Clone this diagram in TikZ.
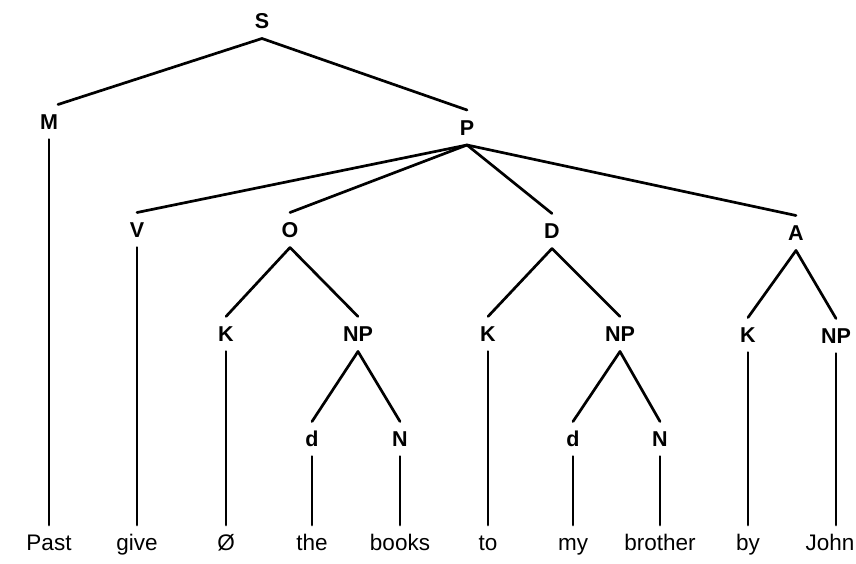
\documentclass[tikz,border=0pt]{standalone}
\usepackage{fontspec}
\setmainfont{Liberation Sans}
\begin{document}
\begin{tikzpicture}[x=1pt,y=-1pt,
  lab/.style={font=\fontsize{21.5}{25}\selectfont\bfseries, inner sep=0pt, outer sep=0pt,
              text height=15pt, text depth=0pt, minimum height=35pt},
  leaf/.style={font=\fontsize{22.5}{26}\selectfont, inner sep=0pt, outer sep=0pt,
              text height=12pt, text depth=0pt, minimum height=38pt},
  edge/.style={line width=2.7pt, line cap=round}]
\useasboundingbox (0,0) rectangle (856,563);
% labels
\node[lab] (S)   at (262,21)    {S};
\node[lab] (M)   at (49,122)    {M};
\node[lab] (P)   at (467,127.5) {P};
\node[lab] (V)   at (137,230)   {V};
\node[lab] (O)   at (290,230)   {O};
\node[lab] (D)   at (552,231)   {D};
\node[lab] (A)   at (796,233)   {A};
\node[lab] (K1)  at (226,334)   {K};
\node[lab] (NP1) at (358,334)   {NP};
\node[lab] (K2)  at (488,334)   {K};
\node[lab] (NP2) at (620,334)   {NP};
\node[lab] (K3)  at (748,335)   {K};
\node[lab] (NP3) at (836,336)   {NP};
\node[lab] (d1)  at (312,439)   {d};
\node[lab] (N1)  at (400,439)   {N};
\node[lab] (d2)  at (573,439)   {d};
\node[lab] (N2)  at (660,439)   {N};
% leaves
\node[leaf] (past)    at (49,544)  {Past};
\node[leaf] (give)    at (137,544) {give};
\node[leaf] (zero)    at (226,544) {Ø};
\node[leaf] (the)     at (312,544) {the};
\node[leaf] (books)   at (400,544) {books};
\node[leaf] (to)      at (488,544) {to};
\node[leaf] (my)      at (573,544) {my};
\node[leaf] (brother) at (660,544) {brother};
\node[leaf] (by)      at (748,544) {by};
\node[leaf] (john)    at (830,544) {John};
\coordinate (jtop) at (836,525);
% edges
\draw[edge] (S.south) -- (M.north east);
\draw[edge] (S.south) -- (P.north);
\draw[edge] (P.south) -- (V.north);
\draw[edge] (P.south) -- (O.north);
\draw[edge] (P.south) -- (D.north);
\draw[edge] (P.south) -- (A.north);
\draw[edge] (O.south) -- (K1.north);
\draw[edge] (O.south) -- (NP1.north);
\draw[edge] (D.south) -- (K2.north);
\draw[edge] (D.south) -- (NP2.north);
\draw[edge] (A.south) -- (K3.north);
\draw[edge] (A.south) -- (NP3.north);
\draw[edge] (NP1.south) -- (d1.north);
\draw[edge] (NP1.south) -- (N1.north);
\draw[edge] (NP2.south) -- (d2.north);
\draw[edge] (NP2.south) -- (N2.north);
\draw[edge] (M.south) -- (past.north);
\draw[edge] (V.south) -- (give.north);
\draw[edge] (K1.south) -- (zero.north);
\draw[edge] (d1.south) -- (the.north);
\draw[edge] (N1.south) -- (books.north);
\draw[edge] (K2.south) -- (to.north);
\draw[edge] (d2.south) -- (my.north);
\draw[edge] (N2.south) -- (brother.north);
\draw[edge] (K3.south) -- (by.north);
\draw[edge] (NP3.south) -- (jtop);
\end{tikzpicture}
\end{document}
